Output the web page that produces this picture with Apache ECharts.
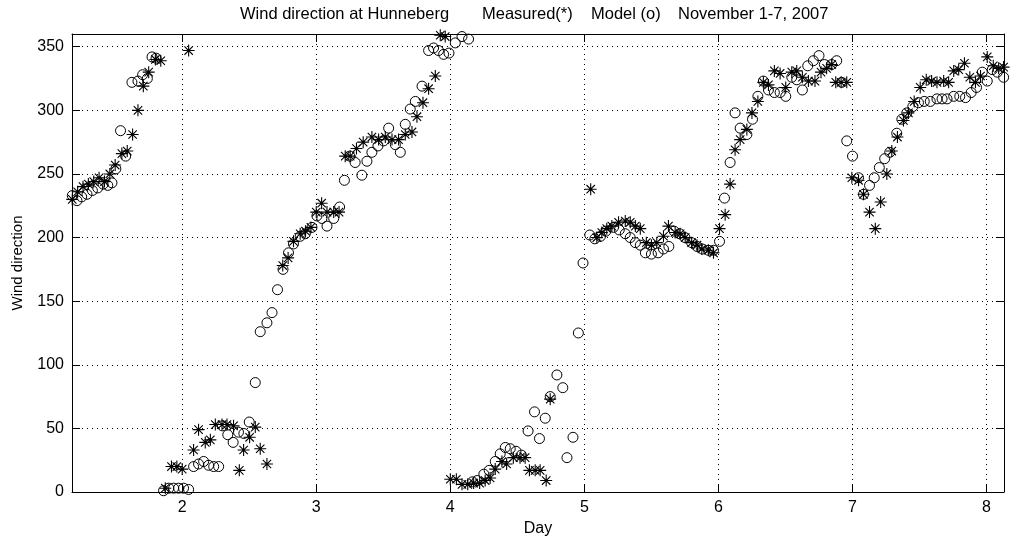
<!DOCTYPE html>
<html>
<head>
<meta charset="utf-8">
<script src="https://cdn.jsdelivr.net/npm/echarts@6/dist/echarts.min.js"></script>
<style>
html,body{margin:0;padding:0;background:#fff;}
#chart{width:1010px;height:544px;}
</style>
</head>
<body>
<div id="chart"></div>
<script>
// ---- data ----
const measuredDay = [
1.18,1.22,1.26,1.30,1.34,1.38,1.42,1.46,1.50,1.55,
1.59,1.63,1.67,1.71,1.75,1.80,1.84,1.874,1.92,1.96,
2.0,2.048,2.085,2.122,2.172,2.21,2.247,2.297,2.334,2.383,
2.426,2.458,2.503,2.545,2.582,2.632,2.75,2.79,2.83,2.88,
2.92,2.96,3.0,3.04,3.08,3.13,3.17,3.216,3.253,3.30,
3.35,3.415,3.465,3.515,3.565,3.614,3.664,3.714,3.751,3.796,
3.838,3.888,3.925,3.962,4.0,4.045,4.087,4.13,4.174,4.219,
4.26,4.297,4.335,4.385,4.42,4.47,4.52,4.558,4.59,4.633,
4.67,4.715,4.745,5.047,5.093,5.13,5.167,5.205,5.255,5.305,
5.342,5.38,5.417,5.462,5.5,5.54,5.59,5.627,5.677,5.714,
5.752,5.8,5.84,5.876,5.925,5.963,6.008,6.05,6.087,6.124,
6.162,6.212,6.25,6.294,6.335,6.373,6.417,6.46,6.502,6.547,
6.584,6.626,6.671,6.72,6.765,6.807,6.845,6.875,6.915,6.957,
6.995,7.045,7.082,7.127,7.17,7.21,7.256,7.293,7.335,7.38,
7.417,7.46,7.505,7.55,7.59,7.63,7.68,7.717,7.755,7.792,
7.835,7.875,7.917,7.955,8.005,8.05,8.09,8.127];
const measuredDir = [
230,236,240,242,244,247,244,250,257,266,
268,281,300,319,330,340,339,3,20,20,
18,347,33,49,39,41,53,53,53,52,
17,33,43,51,34,22,178,184,197,203,
205,208,220,227,220,220,220,264,264,270,
275,279,277,279,277,277,281,283,295,306,
317,327,359,358,10,10,6,6,7,7,
9,11,18,24,22,27,27,27,17,17,
17,9,73,238,200,204,207,209,212,213,
212,209,207,196,194,196,201,209,204,203,
200,196,194,191,190,188,207,218,242,269,
277,285,298,307,322,320,331,329,318,330,
331,326,323,323,330,333,336,322,322,322,
247,245,234,220,207,228,250,268,279,292,
298,307,318,324,323,322,323,322,331,332,
337,326,322,327,342,335,333,334];
const modelDay = [
1.18,1.215,1.25,1.29,1.33,1.37,1.41,1.445,1.476,1.505,
1.54,1.578,1.625,1.67,1.705,1.74,1.775,1.805,1.861,1.90,
1.936,1.973,2.01,2.048,2.085,2.122,2.16,2.197,2.235,2.272,
2.30,2.34,2.38,2.42,2.46,2.50,2.545,2.582,2.632,2.67,
2.711,2.752,2.793,2.83,2.88,2.918,2.968,3.005,3.042,3.08,
3.13,3.174,3.21,3.25,3.29,3.34,3.378,3.415,3.46,3.502,
3.54,3.59,3.627,3.664,3.701,3.739,3.789,3.838,3.875,3.912,
3.95,3.99,4.037,4.087,4.136,4.165,4.2,4.25,4.29,4.335,
4.372,4.41,4.447,4.49,4.53,4.58,4.628,4.665,4.708,4.745,
4.795,4.839,4.87,4.915,4.955,4.99,5.04,5.078,5.12,5.16,
5.217,5.26,5.305,5.342,5.38,5.417,5.455,5.5,5.55,5.59,
5.63,5.67,5.71,5.75,5.8,5.84,5.88,5.925,5.963,6.008,
6.045,6.087,6.124,6.162,6.212,6.254,6.294,6.335,6.373,6.417,
6.46,6.502,6.547,6.584,6.626,6.666,6.708,6.75,6.79,6.845,
6.882,6.92,6.957,7.0,7.045,7.082,7.127,7.162,7.2,7.24,
7.278,7.33,7.368,7.405,7.45,7.492,7.535,7.58,7.63,7.668,
7.705,7.755,7.8,7.843,7.885,7.925,7.968,8.005,8.043,8.08,
8.127];
const modelDir = [
233,229,232,234,237,239,242,241,243,254,
284,264,322,323,328,325,342,341,1,3,
3,3,3,2,20,22,24,21,20,20,
52,45,39,47,46,55,86,126,133,141,
159,175,188,195,201,203,208,217,215,209,
215,224,245,264,259,249,260,267,272,276,
286,273,267,289,301,307,319,347,349,347,
344,345,353,358,356,8,9,14,17,24,
30,35,34,32,29,48,63,42,58,75,
92,82,27,43,125,180,202,199,201,205,
208,206,203,200,196,194,188,187,188,191,
193,205,203,200,196,193,191,190,190,197,
231,259,298,286,281,293,311,323,316,314,
314,311,326,324,316,335,339,343,336,336,
339,322,276,264,247,234,241,247,255,262,
267,282,293,298,303,306,307,307,309,309,
309,311,311,310,314,318,330,323,332,330,
326];
const xTicks = [2,3,4,5,6,7,8];
const yTicks = [0,50,100,150,200,250,300,350];
const titleParts = ['Wind direction at Hunneberg', 'Measured(*)', 'Model (o)', 'November 1-7, 2007'];

// ---- chart ----
const FONT = '"Liberation Sans", Arial, Helvetica, sans-serif';
const STAR = 'path://M5,0L5,10M0,5L10,5M1.5,1.5L8.5,8.5M1.5,8.5L8.5,1.5';
const measured = measuredDay.map((d, i) => [d, measuredDir[i]]);
const model = modelDay.map((d, i) => [d, modelDir[i]]);
const dotted = {color: '#000', width: 1, type: [1, 4]};
const titleLeft = [240, 482, 591, 678];

const chart = echarts.init(document.getElementById('chart'), null, {renderer: 'canvas'});
chart.setOption({
  animation: false,
  backgroundColor: '#fff',
  title: titleParts.map((t, i) => ({
    text: t, left: titleLeft[i], top: 6, padding: 0,
    textStyle: {fontFamily: FONT, fontSize: 16.5, fontWeight: 'normal', color: '#000'}
  })),
  grid: {left: 72, right: 6, top: 34, bottom: 52, containLabel: false},
  xAxis: [{
    type: 'value', min: 1.178, max: 8.13, position: 'bottom',
    name: 'Day', nameLocation: 'middle', nameGap: 28,
    nameTextStyle: {fontFamily: FONT, fontSize: 16, color: '#000'},
    axisLine: {show: true, onZero: false, lineStyle: {color: '#000', width: 1}},
    axisTick: {show: true, inside: true, length: 8, customValues: xTicks, lineStyle: {color: '#000'}},
    axisLabel: {customValues: xTicks, margin: 8, fontFamily: FONT, fontSize: 16, color: '#000'},
    splitLine: {show: true, lineStyle: dotted}
  }, {
    type: 'value', min: 1.178, max: 8.13, position: 'top',
    axisLine: {show: true, onZero: false, lineStyle: {color: '#000', width: 1}},
    axisTick: {show: true, inside: true, length: 8, customValues: xTicks, lineStyle: {color: '#000'}},
    axisLabel: {show: false},
    splitLine: {show: false}
  }],
  yAxis: [{
    type: 'value', min: 0, max: 360, interval: 50, position: 'left',
    name: 'Wind direction', nameLocation: 'middle', nameGap: 47, nameRotate: 90,
    nameTextStyle: {fontFamily: FONT, fontSize: 15, color: '#000'},
    axisLine: {show: true, onZero: false, lineStyle: {color: '#000', width: 1}},
    axisTick: {show: true, inside: true, length: 8, customValues: yTicks, lineStyle: {color: '#000'}},
    axisLabel: {customValues: yTicks, margin: 8, fontFamily: FONT, fontSize: 16, color: '#000'},
    splitLine: {show: true, lineStyle: dotted}
  }, {
    type: 'value', min: 0, max: 360, interval: 50, position: 'right',
    axisLine: {show: true, onZero: false, lineStyle: {color: '#000', width: 1}},
    axisTick: {show: true, inside: true, length: 8, customValues: yTicks, lineStyle: {color: '#000'}},
    axisLabel: {show: false},
    splitLine: {show: false}
  }],
  series: [{
    name: 'Measured', type: 'scatter', xAxisIndex: 0, yAxisIndex: 0,
    data: measured, symbol: STAR, symbolSize: 12,
    itemStyle: {color: 'rgba(0,0,0,0)', borderColor: '#000', borderWidth: 1.1, opacity: 1}
  }, {
    name: 'Model', type: 'scatter', xAxisIndex: 0, yAxisIndex: 0,
    data: model, symbol: 'circle', symbolSize: 10,
    itemStyle: {color: 'rgba(0,0,0,0)', borderColor: '#000', borderWidth: 1, opacity: 1}
  }]
});
</script>
</body>
</html>
